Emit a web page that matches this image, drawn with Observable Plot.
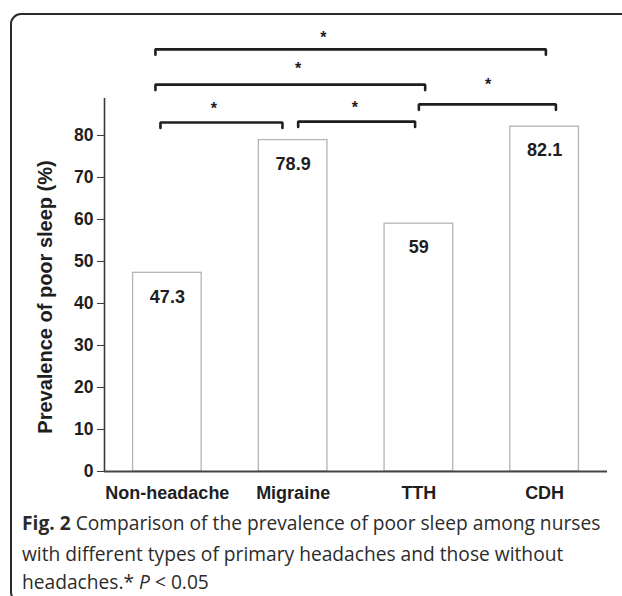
<!DOCTYPE html>
<html>
<head>
<meta charset="utf-8">
<script src="https://cdn.jsdelivr.net/npm/d3@7"></script>
<script src="https://cdn.jsdelivr.net/npm/@observablehq/plot@0.6"></script>
<style>
  html, body { margin: 0; padding: 0; background: #fff; overflow: hidden; }
  #page { position: relative; width: 622px; height: 596px; overflow: hidden; }
  #box { position: absolute; left: 10px; top: 13px; width: 700px; height: 590px;
         border: 2px solid #2a2a2a; border-radius: 11px; box-sizing: border-box; }
  #chart { position: absolute; left: 0; top: 0; }
  .cap { position: absolute; left: 22px; white-space: nowrap;
         font-family: "Open Sans", sans-serif; font-size: 19.2px; line-height: 26px; height: 26px; color: #2b2b2b; }
  .cap b { font-weight: 700; }
</style>
</head>
<body>
<div id="page">
  <div id="box"></div>
  <div id="chart"></div>
  <div class="cap" style="top:510px"><b>Fig. 2</b> Comparison of the prevalence of poor sleep among nurses</div>
  <div class="cap" style="top:541px">with different types of primary headaches and those without</div>
  <div class="cap" style="top:569px">headaches.* <i>P</i> &lt; 0.05</div>
</div>
<script>
// ---- data ----
const categories = ["Non-headache", "Migraine", "TTH", "CDH"];
const prevalence = [47.3, 78.9, 59, 82.1];
const valueLabels = ["47.3", "78.9", "59", "82.1"];
const yTicks = [0, 10, 20, 30, 40, 50, 60, 70, 80];
const yTitle = "Prevalence of poor sleep (%)";

// significance brackets (x in category-index units, y in %)
const bracketX1 = [-0.095, -0.095, 2.0, -0.055, 1.04];
const bracketX2 = [3.01, 2.05, 3.09, 0.915, 1.97];
const bracketLevel = [100.5, 92.1, 87.4, 83.1, 83.3];
const starX = [1.24, 1.04, 2.55, 0.37, 1.49];
const starY = [104.3, 96.9, 93.1, 87.4, 87.6];
const starText = ["*", "*", "*", "*", "*"];

// ---- build tables ----
const bars = categories.map((c, i) => ({i, c, v: prevalence[i], label: valueLabels[i]}));
const halfBar = 0.2728;
const legDrop = 1.3;
const bracketPts = [];
bracketX1.forEach((x1, k) => {
  const x2 = bracketX2[k], L = bracketLevel[k];
  bracketPts.push({k, x: x1, y: L - legDrop}, {k, x: x1, y: L}, {k, x: x2, y: L}, {k, x: x2, y: L - legDrop});
});
const stars = starX.map((x, k) => ({x, y: starY[k], t: starText[k]}));

const xDomain = [-0.5, categories.length - 0.5];
const yMax = 88.8;
const ink = "#1e1e1e";

const chart = Plot.plot({
  width: 622,
  height: 505,
  marginLeft: 104,
  marginRight: 15,
  marginTop: 98,
  marginBottom: 34,
  style: {fontFamily: "'Liberation Sans', Arial, sans-serif", fontSize: "17.5px", fontWeight: "bold", color: ink, background: "transparent"},
  x: {type: "linear", domain: xDomain},
  y: {domain: [0, yMax]},
  marks: [
    Plot.rectY(bars, {x1: d => d.i - halfBar, x2: d => d.i + halfBar, y1: 0, y2: "v", fill: "white", stroke: "#b4b4b4", strokeWidth: 1.3}),
    Plot.text(bars, {x: "i", y: "v", text: "label", dy: 24, fill: ink, fontSize: 18}),
    Plot.ruleX([xDomain[0]], {y1: 0, y2: yMax, stroke: "#3a3a3a", strokeWidth: 1.6}),
    Plot.ruleY([0], {stroke: "#444", strokeWidth: 2}),
    Plot.axisY({ticks: yTicks, tickSize: 7, tickPadding: 4, label: null, stroke: "#3a3a3a", fill: ink, fontSize: 17.5}),
    Plot.axisX({ticks: categories.map((c, i) => i), tickFormat: i => categories[i], tickSize: 0, tickPadding: 15, label: null, fill: ink, fontSize: 18}),
    Plot.text([yTitle], {frameAnchor: "left", textAnchor: "middle", lineAnchor: "middle", rotate: -90, dx: -59, dy: 12, fontSize: 20, fontWeight: "bold", fill: ink}),
    Plot.line(bracketPts, {x: "x", y: "y", z: "k", stroke: ink, strokeWidth: 2.6, strokeLinejoin: "miter", curve: "linear"}),
    Plot.text(stars, {x: "x", y: "y", text: "t", fontSize: 16, dy: 4, fill: ink})
  ]
});
document.getElementById("chart").appendChild(chart);
</script>
</body>
</html>
